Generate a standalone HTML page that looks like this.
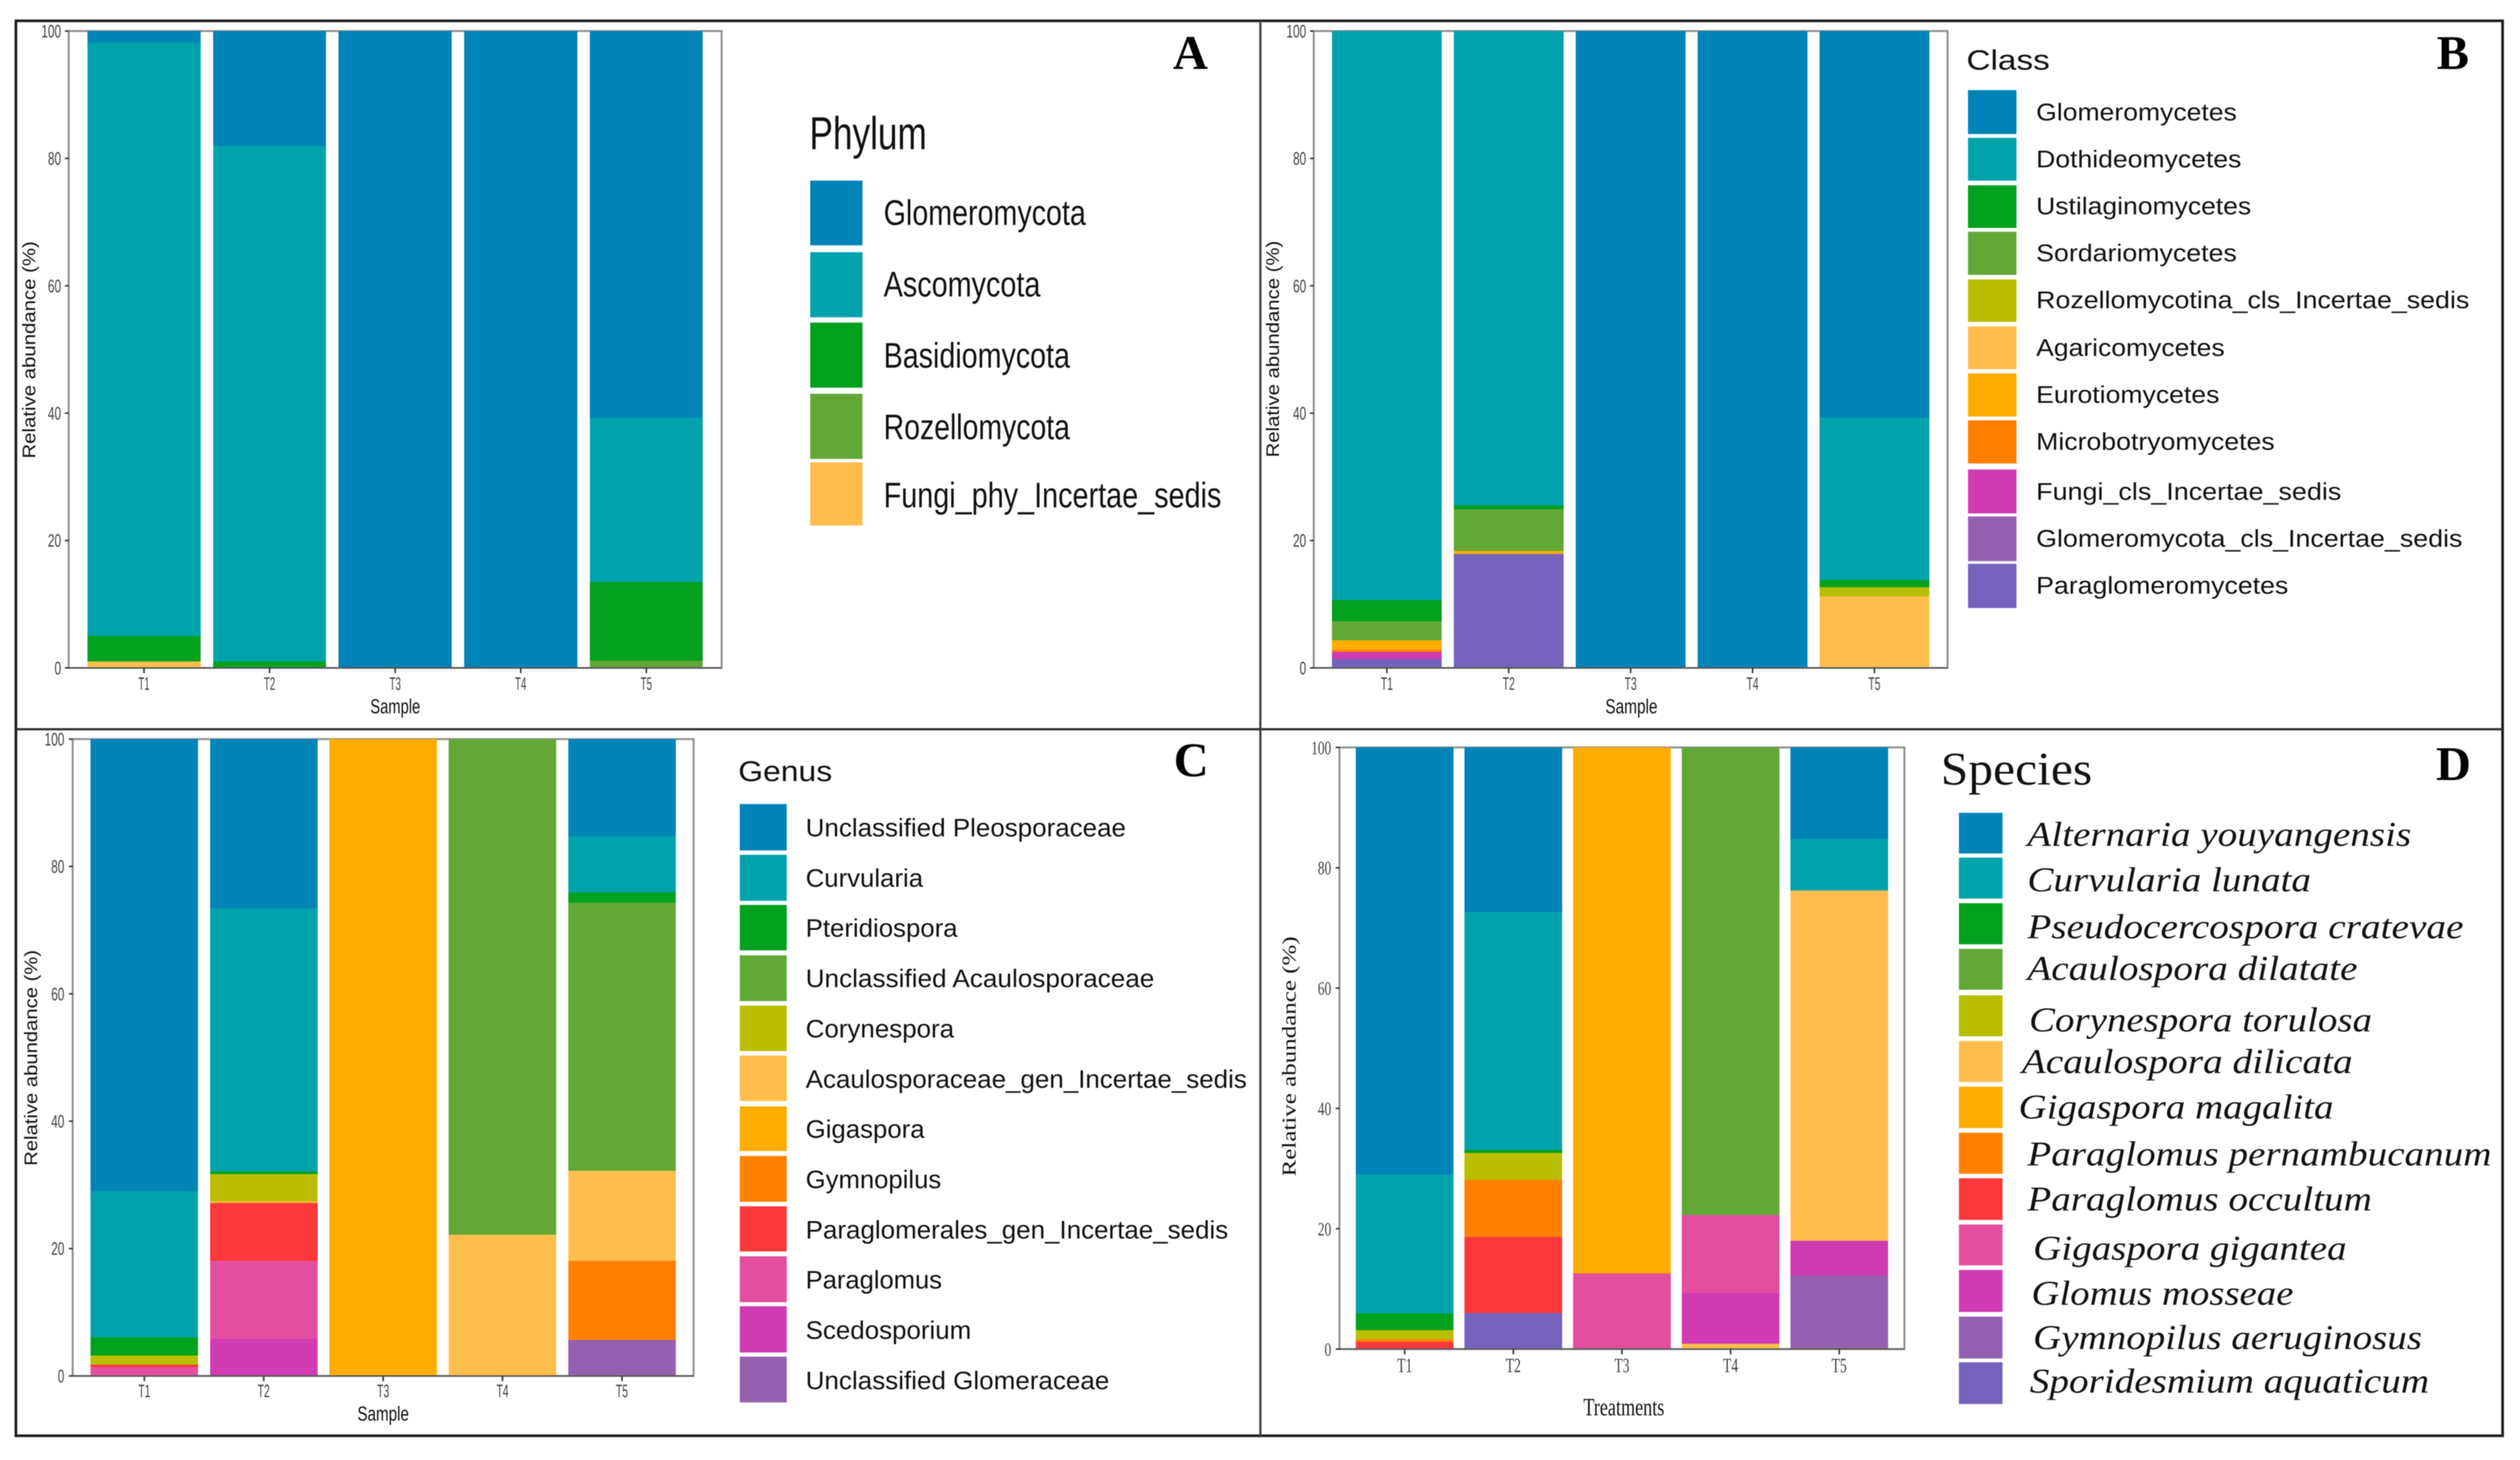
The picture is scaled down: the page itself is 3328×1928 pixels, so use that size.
<!DOCTYPE html>
<html lang="en">
<head>
<meta charset="utf-8">
<title>Fungal community relative abundance</title>
<style>
html,body{margin:0;padding:0;background:#fff;}
svg{display:block;filter:blur(0.6px);}
text{text-rendering:geometricPrecision;}
.sans{font-family:"Liberation Sans",sans-serif;fill:#111;}
.serif{font-family:"Liberation Serif",serif;fill:#111;}
.ital{font-family:"Liberation Serif",serif;font-style:italic;fill:#111;}
.letter{font-family:"Liberation Serif",serif;font-weight:bold;font-size:64px;fill:#000;}
</style>
</head>
<body>
<svg id="figure" xmlns="http://www.w3.org/2000/svg" width="3328" height="1928" viewBox="0 0 3328 1928">
<rect x="0" y="0" width="3328" height="1928" fill="#fff"/>
<g id="plots"></g>

<g fill="none">
<rect x="21" y="27.5" width="3284" height="1868.5" stroke="#1c1c1c" stroke-width="3.5"/>
<line x1="1664.5" y1="27" x2="1664.5" y2="1896" stroke="#444" stroke-width="3"/>
<line x1="21" y1="963" x2="3305" y2="963" stroke="#333" stroke-width="3"/>
</g>

<text class="letter" x="1549" y="91">A</text>
<text class="letter" x="3218" y="91">B</text>
<text class="letter" x="1550" y="1025">C</text>
<text class="letter" x="3217" y="1030">D</text>

<!-- Axis titles -->
<text class="sans" font-size="24" textLength="287" lengthAdjust="spacingAndGlyphs" text-anchor="middle" transform="translate(46.5 462) rotate(-90)">Relative abundance (%)</text>
<text class="sans" font-size="24" textLength="286" lengthAdjust="spacingAndGlyphs" text-anchor="middle" transform="translate(1689 461) rotate(-90)">Relative abundance (%)</text>
<text class="sans" font-size="24" textLength="285" lengthAdjust="spacingAndGlyphs" text-anchor="middle" transform="translate(49 1397) rotate(-90)">Relative abundance (%)</text>
<text class="serif" font-size="26" textLength="317" lengthAdjust="spacingAndGlyphs" text-anchor="middle" transform="translate(1711 1395) rotate(-90)">Relative abundance (%)</text>
<text class="sans" font-size="27" x="489" y="942" textLength="66" lengthAdjust="spacingAndGlyphs">Sample</text>
<text class="sans" font-size="27" x="2120" y="942" textLength="69" lengthAdjust="spacingAndGlyphs">Sample</text>
<text class="sans" font-size="27" x="472" y="1876" textLength="68" lengthAdjust="spacingAndGlyphs">Sample</text>
<text class="serif" font-size="33" x="2091" y="1869" textLength="107" lengthAdjust="spacingAndGlyphs">Treatments</text>

<!-- Legend A -->
<g>
<text class="sans" font-size="61" x="1069" y="197" textLength="155" lengthAdjust="spacingAndGlyphs">Phylum</text>
<g><rect x="1070" y="238.5" width="69" height="85.5" fill="#0083b7"/><text class="sans" font-size="47" x="1167" y="297" textLength="267" lengthAdjust="spacingAndGlyphs">Glomeromycota</text></g>
<g><rect x="1070" y="333" width="69" height="86" fill="#00a3ab"/><text class="sans" font-size="47" x="1167" y="391.5" textLength="207" lengthAdjust="spacingAndGlyphs">Ascomycota</text></g>
<g><rect x="1070" y="426" width="69" height="86" fill="#02a11e"/><text class="sans" font-size="47" x="1167" y="485.5" textLength="246" lengthAdjust="spacingAndGlyphs">Basidiomycota</text></g>
<g><rect x="1070" y="520" width="69" height="86" fill="#62a836"/><text class="sans" font-size="47" x="1167" y="580" textLength="246" lengthAdjust="spacingAndGlyphs">Rozellomycota</text></g>
<g><rect x="1070" y="610.5" width="69" height="83.5" fill="#ffbe4c"/><text class="sans" font-size="47" x="1167" y="670" textLength="446" lengthAdjust="spacingAndGlyphs">Fungi_phy_Incertae_sedis</text></g>
</g>

<!-- Legend B -->
<g>
<text class="sans" font-size="37" x="2597" y="92" textLength="110" lengthAdjust="spacingAndGlyphs">Class</text>
<g><rect x="2599" y="119" width="64" height="58" fill="#0083b7"/><text class="sans" font-size="32" x="2689" y="159" textLength="265" lengthAdjust="spacingAndGlyphs">Glomeromycetes</text></g>
<g><rect x="2599" y="182" width="64" height="56.5" fill="#00a3ab"/><text class="sans" font-size="32" x="2689" y="221" textLength="271" lengthAdjust="spacingAndGlyphs">Dothideomycetes</text></g>
<g><rect x="2599" y="244.7" width="64" height="56.3" fill="#02a11e"/><text class="sans" font-size="32" x="2689" y="283" textLength="284" lengthAdjust="spacingAndGlyphs">Ustilaginomycetes</text></g>
<g><rect x="2599" y="306" width="64" height="57" fill="#62a836"/><text class="sans" font-size="32" x="2689" y="345" textLength="265" lengthAdjust="spacingAndGlyphs">Sordariomycetes</text></g>
<g><rect x="2599" y="369" width="64" height="56" fill="#babe00"/><text class="sans" font-size="32" x="2689" y="407" textLength="572" lengthAdjust="spacingAndGlyphs">Rozellomycotina_cls_Incertae_sedis</text></g>
<g><rect x="2599" y="431" width="64" height="56.5" fill="#ffbe4c"/><text class="sans" font-size="32" x="2689" y="470" textLength="249" lengthAdjust="spacingAndGlyphs">Agaricomycetes</text></g>
<g><rect x="2599" y="493" width="64" height="57" fill="#ffac00"/><text class="sans" font-size="32" x="2689" y="532" textLength="242" lengthAdjust="spacingAndGlyphs">Eurotiomycetes</text></g>
<g><rect x="2599" y="555" width="64" height="57" fill="#ff8000"/><text class="sans" font-size="32" x="2689" y="594" textLength="315" lengthAdjust="spacingAndGlyphs">Microbotryomycetes</text></g>
<g><rect x="2599" y="620" width="64" height="58" fill="#d03bb3"/><text class="sans" font-size="32" x="2689" y="660" textLength="403" lengthAdjust="spacingAndGlyphs">Fungi_cls_Incertae_sedis</text></g>
<g><rect x="2599" y="682" width="64" height="59" fill="#9660b0"/><text class="sans" font-size="32" x="2689" y="722" textLength="563" lengthAdjust="spacingAndGlyphs">Glomeromycota_cls_Incertae_sedis</text></g>
<g><rect x="2599" y="744.5" width="64" height="58.5" fill="#7562bc"/><text class="sans" font-size="32" x="2689" y="784" textLength="333" lengthAdjust="spacingAndGlyphs">Paraglomeromycetes</text></g>
</g>

<!-- Legend C -->
<g>
<text class="sans" font-size="38" x="975" y="1031.5" textLength="124" lengthAdjust="spacingAndGlyphs">Genus</text>
<g><rect x="977" y="1061.8" width="62" height="61.2" fill="#0083b7"/><text class="sans" font-size="33.5" x="1064" y="1104.5" textLength="423" lengthAdjust="spacingAndGlyphs">Unclassified Pleosporaceae</text></g>
<g><rect x="977" y="1128.8" width="62" height="60.8" fill="#00a3ab"/><text class="sans" font-size="33.5" x="1064" y="1171" textLength="155" lengthAdjust="spacingAndGlyphs">Curvularia</text></g>
<g><rect x="977" y="1195" width="62" height="60" fill="#02a11e"/><text class="sans" font-size="33.5" x="1064" y="1237.2" textLength="200.6" lengthAdjust="spacingAndGlyphs">Pteridiospora</text></g>
<g><rect x="977" y="1261.6" width="62" height="60.4" fill="#62a836"/><text class="sans" font-size="33.5" x="1064" y="1303.5" textLength="460.5" lengthAdjust="spacingAndGlyphs">Unclassified Acaulosporaceae</text></g>
<g><rect x="977" y="1328" width="62" height="60" fill="#babe00"/><text class="sans" font-size="33.5" x="1064" y="1370" textLength="196" lengthAdjust="spacingAndGlyphs">Corynespora</text></g>
<g><rect x="977" y="1394" width="62" height="60" fill="#ffbe4c"/><text class="sans" font-size="33.5" x="1064" y="1436.5" textLength="582.6" lengthAdjust="spacingAndGlyphs">Acaulosporaceae_gen_Incertae_sedis</text></g>
<g><rect x="977" y="1461" width="62" height="59" fill="#ffac00"/><text class="sans" font-size="33.5" x="1064" y="1502.5" textLength="157" lengthAdjust="spacingAndGlyphs">Gigaspora</text></g>
<g><rect x="977" y="1526.5" width="62" height="60.5" fill="#ff8000"/><text class="sans" font-size="33.5" x="1064" y="1569" textLength="179" lengthAdjust="spacingAndGlyphs">Gymnopilus</text></g>
<g><rect x="977" y="1593" width="62" height="59.6" fill="#fb383c"/><text class="sans" font-size="33.5" x="1064" y="1635.3" textLength="558" lengthAdjust="spacingAndGlyphs">Paraglomerales_gen_Incertae_sedis</text></g>
<g><rect x="977" y="1659" width="62" height="60.6" fill="#e34e9e"/><text class="sans" font-size="33.5" x="1064" y="1701.5" textLength="180" lengthAdjust="spacingAndGlyphs">Paraglomus</text></g>
<g><rect x="977" y="1725" width="62" height="61" fill="#d03bb3"/><text class="sans" font-size="33.5" x="1064" y="1768" textLength="218.6" lengthAdjust="spacingAndGlyphs">Scedosporium</text></g>
<g><rect x="977" y="1791.5" width="62" height="60.5" fill="#9660b0"/><text class="sans" font-size="33.5" x="1064" y="1834.5" textLength="401" lengthAdjust="spacingAndGlyphs">Unclassified Glomeraceae</text></g>
</g>

<!-- Legend D -->
<g>
<text class="serif" font-size="62" x="2563" y="1036" textLength="200" lengthAdjust="spacingAndGlyphs">Species</text>
<g><rect x="2587" y="1073.4" width="57.6" height="53.6" fill="#0083b7"/><text class="ital" font-size="46" x="2677.4" y="1117" textLength="507" lengthAdjust="spacingAndGlyphs">Alternaria youyangensis</text></g>
<g><rect x="2587" y="1132.5" width="57.6" height="54.1" fill="#00a3ab"/><text class="ital" font-size="46" x="2677.4" y="1177" textLength="374.6" lengthAdjust="spacingAndGlyphs">Curvularia lunata</text></g>
<g><rect x="2587" y="1192.7" width="57.6" height="54.3" fill="#02a11e"/><text class="ital" font-size="46" x="2677.4" y="1239" textLength="576" lengthAdjust="spacingAndGlyphs">Pseudocercospora cratevae</text></g>
<g><rect x="2587" y="1253" width="57.6" height="54" fill="#62a836"/><text class="ital" font-size="46" x="2677.4" y="1294" textLength="436" lengthAdjust="spacingAndGlyphs">Acaulospora dilatate</text></g>
<g><rect x="2587" y="1314.4" width="57.6" height="54.1" fill="#babe00"/><text class="ital" font-size="46" x="2679.6" y="1362" textLength="453" lengthAdjust="spacingAndGlyphs">Corynespora torulosa</text></g>
<g><rect x="2587" y="1374.7" width="57.6" height="54.1" fill="#ffbe4c"/><text class="ital" font-size="46" x="2670" y="1417" textLength="437" lengthAdjust="spacingAndGlyphs">Acaulospora dilicata</text></g>
<g><rect x="2587" y="1435" width="57.6" height="54.7" fill="#ffac00"/><text class="ital" font-size="46" x="2665.8" y="1477" textLength="416" lengthAdjust="spacingAndGlyphs">Gigaspora magalita</text></g>
<g><rect x="2587" y="1495.8" width="57.6" height="54.2" fill="#ff8000"/><text class="ital" font-size="46" x="2677.4" y="1539" textLength="613" lengthAdjust="spacingAndGlyphs">Paraglomus pernambucanum</text></g>
<g><rect x="2587" y="1556" width="57.6" height="55" fill="#fb383c"/><text class="ital" font-size="46" x="2677.4" y="1598.5" textLength="455" lengthAdjust="spacingAndGlyphs">Paraglomus occultum</text></g>
<g><rect x="2587" y="1617" width="57.6" height="54" fill="#e34e9e"/><text class="ital" font-size="46" x="2685" y="1663.6" textLength="414" lengthAdjust="spacingAndGlyphs">Gigaspora gigantea</text></g>
<g><rect x="2587" y="1677" width="57.6" height="55.5" fill="#d03bb3"/><text class="ital" font-size="46" x="2682.8" y="1723" textLength="346" lengthAdjust="spacingAndGlyphs">Glomus mosseae</text></g>
<g><rect x="2587" y="1738.6" width="57.6" height="55.4" fill="#9660b0"/><text class="ital" font-size="46" x="2685" y="1781.7" textLength="513.6" lengthAdjust="spacingAndGlyphs">Gymnopilus aeruginosus</text></g>
<g><rect x="2587" y="1799" width="57.6" height="55" fill="#7562bc"/><text class="ital" font-size="46" x="2680.6" y="1839" textLength="527.4" lengthAdjust="spacingAndGlyphs">Sporidesmium aquaticum</text></g>
</g>
</svg>

<script>
// Shared axis data
const sampleCategories = ['T1', 'T2', 'T3', 'T4', 'T5'];
const percentTicks = [0, 20, 40, 60, 80, 100];

// Panel A: phylum values, one entry per sample, top of stack first
const phylumNames = ['Glomeromycota', 'Ascomycota', 'Basidiomycota', 'Rozellomycota', 'Fungi_phy_Incertae_sedis'];
const phylumGlomeromycota = [1.8, 18, 100, 100, 60.7];
const phylumAscomycota = [93.2, 81, 0, 0, 25.8];
const phylumBasidiomycota = [4, 1, 0, 0, 12.4];
const phylumRozellomycota = [0, 0, 0, 0, 1.1];
const phylumFungiIncertae = [1, 0, 0, 0, 0];

// Panel B: class values
const classNames = ['Glomeromycetes', 'Dothideomycetes', 'Ustilaginomycetes', 'Sordariomycetes', 'Rozellomycotina_cls_Incertae_sedis', 'Agaricomycetes', 'Eurotiomycetes', 'Microbotryomycetes', 'Fungi_cls_Incertae_sedis', 'Glomeromycota_cls_Incertae_sedis', 'Paraglomeromycetes'];
const classGlomeromycetes = [0, 0, 100, 100, 60.7];
const classDothideomycetes = [89.37, 74.5, 0, 0, 25.5];
const classUstilaginomycetes = [3.3, 0.6, 0, 0, 1.15];
const classSordariomycetes = [3, 6.5, 0, 0, 0];
const classRozellomycotina = [0, 0, 0, 0, 1.4];
const classAgaricomycetes = [0, 0, 0, 0, 11.25];
const classEurotiomycetes = [1.47, 0.5, 0, 0, 0];
const classMicrobotryomycetes = [0.36, 0, 0, 0, 0];
const classFungiIncertae = [1.1, 0, 0, 0, 0];
const classGlomeromycotaIncertae = [0, 0, 0, 0, 0];
const classParaglomeromycetes = [1.4, 17.9, 0, 0, 0];

// Panel C: genus values
const genusNames = ['Unclassified Pleosporaceae', 'Curvularia', 'Pteridiospora', 'Unclassified Acaulosporaceae', 'Corynespora', 'Acaulosporaceae_gen_Incertae_sedis', 'Gigaspora', 'Gymnopilus', 'Paraglomerales_gen_Incertae_sedis', 'Paraglomus', 'Scedosporium', 'Unclassified Glomeraceae'];
const genusPleosporaceae = [70.96, 26.6, 0, 0, 15.3];
const genusCurvularia = [22.95, 41.3, 0, 0, 8.8];
const genusPteridiospora = [2.85, 0.4, 0, 0, 1.6];
const genusAcaulosporaceae = [0, 0, 0, 77.8, 42.1];
const genusCorynespora = [1.45, 4.3, 0, 0, 0];
const genusAcaulosporaceaeIncertae = [0, 0.25, 0, 22.2, 14.13];
const genusGigaspora = [0, 0, 100, 0, 0];
const genusGymnopilus = [0, 0, 0, 0, 12.44];
const genusParaglomeralesIncertae = [0.4, 9.08, 0, 0, 0];
const genusParaglomus = [1.39, 12.22, 0, 0, 0];
const genusScedosporium = [0, 5.85, 0, 0, 0];
const genusGlomeraceae = [0, 0, 0, 0, 5.63];

// Panel D: species values (the last series is the small dilicata slice at the foot of T4)
const speciesNames = ['Alternaria youyangensis', 'Curvularia lunata', 'Pseudocercospora cratevae', 'Acaulospora dilatate', 'Corynespora torulosa', 'Acaulospora dilicata', 'Gigaspora magalita', 'Paraglomus pernambucanum', 'Paraglomus occultum', 'Gigaspora gigantea', 'Glomus mosseae', 'Gymnopilus aeruginosus', 'Sporidesmium aquaticum', 'Acaulospora dilicata base'];
const speciesAlternaria = [71, 27.4, 0, 0, 15.25];
const speciesCurvularia = [23.1, 39.5, 0, 0, 8.55];
const speciesPseudocercospora = [2.74, 0.5, 0, 0, 0];
const speciesDilatate = [0, 0, 0, 77.7, 0];
const speciesCorynespora = [1.51, 4.5, 0, 0, 0];
const speciesDilicata = [0, 0, 0, 0, 58.2];
const speciesMagalita = [0, 0, 87.4, 0, 0];
const speciesPernambucanum = [0.43, 9.5, 0, 0, 0];
const speciesOccultum = [1.22, 12.6, 0, 0, 0];
const speciesGigantea = [0, 0, 12.6, 13, 0];
const speciesMosseae = [0, 0, 0, 8.45, 5.8];
const speciesGymnopilus = [0, 0, 0, 0, 12.2];
const speciesSporidesmium = [0, 6, 0, 0, 0];
const speciesDilicataBase = [0, 0, 0, 0.85, 0];

const BLUE = '#0083b7', TEAL = '#00a3ab', GREEN = '#02a11e', OLIVE = '#62a836', LIME = '#babe00', PEACH = '#ffbe4c', AMBER = '#ffac00', ORANGE = '#ff8000', RED = '#fb383c', PINK = '#e34e9e', MAGENTA = '#d03bb3', PURPLE = '#9660b0', INDIGO = '#7562bc';
const NS = 'http://www.w3.org/2000/svg';
const plotsRoot = document.getElementById('plots');

function makeEl(parent, tag) {
  const el = document.createElementNS(NS, tag);
  parent.appendChild(el);
  return el;
}

function drawPanel(cfg) {
  const g = makeEl(plotsRoot, 'g');
  
  

  const yScale = function (v) { return cfg.bottom - (v / 100) * (cfg.bottom - cfg.top); };
  const band = (cfg.right - cfg.left) / (sampleCategories.length - 1 + 1.2);
  const xScale = function (i) { return cfg.left + 0.6 * band + i * band; };
  const barWidth = band * 0.9;

  const border = makeEl(g, 'rect');
  
  
  border.setAttribute('x', cfg.left);
  border.setAttribute('y', cfg.top);
  border.setAttribute('width', cfg.right - cfg.left);
  border.setAttribute('height', cfg.bottom - cfg.top);
  border.setAttribute('fill', '#fff');
  border.setAttribute('stroke', '#8c8c8c');
  border.setAttribute('stroke-width', '2.5');

  sampleCategories.forEach(function (cat, i) {
    let cum = 0;
    for (let s = cfg.series.length - 1; s >= 0; s--) {
      const v = cfg.series[s][i];
      if (v <= 0) continue;
      const seg = makeEl(g, 'rect');
      
      
      seg.setAttribute('x', xScale(i) - barWidth / 2);
      seg.setAttribute('y', yScale(cum + v));
      seg.setAttribute('width', barWidth);
      seg.setAttribute('height', yScale(cum) - yScale(cum + v));
      seg.setAttribute('fill', cfg.colors[s]);
      seg.setAttribute('shape-rendering', 'crispEdges');
      cum += v;
    }
  });

  const baseLine = makeEl(g, 'line');
  
  
  baseLine.setAttribute('x1', cfg.left);
  baseLine.setAttribute('x2', cfg.right);
  baseLine.setAttribute('y1', cfg.bottom);
  baseLine.setAttribute('y2', cfg.bottom);
  baseLine.setAttribute('stroke', '#5a5a5a');
  baseLine.setAttribute('stroke-width', '2');

  percentTicks.forEach(function (t) {
    const tick = makeEl(g, 'line');
    
    
    tick.setAttribute('x1', cfg.left - 5);
    tick.setAttribute('x2', cfg.left);
    tick.setAttribute('y1', yScale(t));
    tick.setAttribute('y2', yScale(t));
    tick.setAttribute('stroke', '#333');
    tick.setAttribute('stroke-width', '2');
    const label = makeEl(g, 'text');
    
    
    label.setAttribute('x', cfg.left - cfg.yLabelGap);
    label.setAttribute('y', yScale(t) + cfg.tickFont * 0.35);
    label.setAttribute('text-anchor', 'end');
    label.setAttribute('font-family', cfg.font);
    label.setAttribute('font-size', cfg.tickFont);
    label.setAttribute('fill', '#404040');
    label.setAttribute('textLength', String(t).length * cfg.digitWidth);
    label.setAttribute('lengthAdjust', 'spacingAndGlyphs');
    label.textContent = String(t);
  });

  sampleCategories.forEach(function (cat, i) {
    const tick = makeEl(g, 'line');
    
    
    tick.setAttribute('x1', xScale(i));
    tick.setAttribute('x2', xScale(i));
    tick.setAttribute('y1', cfg.bottom);
    tick.setAttribute('y2', cfg.bottom + 7);
    tick.setAttribute('stroke', '#333');
    tick.setAttribute('stroke-width', '2');
    const label = makeEl(g, 'text');
    
    
    label.setAttribute('x', xScale(i));
    label.setAttribute('y', cfg.xLabelY);
    label.setAttribute('text-anchor', 'middle');
    label.setAttribute('font-family', cfg.font);
    label.setAttribute('font-size', cfg.xFont);
    label.setAttribute('fill', '#404040');
    label.setAttribute('textLength', cfg.xLabelWidth);
    label.setAttribute('lengthAdjust', 'spacingAndGlyphs');
    label.textContent = cat;
  });
}

const sansStack = '"Liberation Sans", sans-serif';
const serifStack = '"Liberation Serif", serif';

drawPanel({
  id: 'phylum', names: phylumNames,
  series: [phylumGlomeromycota, phylumAscomycota, phylumBasidiomycota, phylumRozellomycota, phylumFungiIncertae],
  colors: [BLUE, TEAL, GREEN, OLIVE, PEACH],
  left: 90.7, right: 953, top: 41, bottom: 882,
  font: sansStack, tickFont: 24, digitWidth: 8.7, yLabelGap: 10, xFont: 24, xLabelWidth: 15, xLabelY: 911
});
drawPanel({
  id: 'class', names: classNames,
  series: [classGlomeromycetes, classDothideomycetes, classUstilaginomycetes, classSordariomycetes, classRozellomycotina, classAgaricomycetes, classEurotiomycetes, classMicrobotryomycetes, classFungiIncertae, classGlomeromycotaIncertae, classParaglomeromycetes],
  colors: [BLUE, TEAL, GREEN, OLIVE, LIME, PEACH, AMBER, ORANGE, MAGENTA, PURPLE, INDIGO],
  left: 1735, right: 2572, top: 41, bottom: 882,
  font: sansStack, tickFont: 24, digitWidth: 8.7, yLabelGap: 10, xFont: 24, xLabelWidth: 16, xLabelY: 911
});
drawPanel({
  id: 'genus', names: genusNames,
  series: [genusPleosporaceae, genusCurvularia, genusPteridiospora, genusAcaulosporaceae, genusCorynespora, genusAcaulosporaceaeIncertae, genusGigaspora, genusGymnopilus, genusParaglomeralesIncertae, genusParaglomus, genusScedosporium, genusGlomeraceae],
  colors: [BLUE, TEAL, GREEN, OLIVE, LIME, PEACH, AMBER, ORANGE, RED, PINK, MAGENTA, PURPLE],
  left: 96, right: 916, top: 976, bottom: 1817,
  font: sansStack, tickFont: 24, digitWidth: 8.7, yLabelGap: 11, xFont: 24, xLabelWidth: 16, xLabelY: 1845
});
drawPanel({
  id: 'species', names: speciesNames,
  series: [speciesAlternaria, speciesCurvularia, speciesPseudocercospora, speciesDilatate, speciesCorynespora, speciesDilicata, speciesMagalita, speciesPernambucanum, speciesOccultum, speciesGigantea, speciesMosseae, speciesGymnopilus, speciesSporidesmium, speciesDilicataBase],
  colors: [BLUE, TEAL, GREEN, OLIVE, LIME, PEACH, AMBER, ORANGE, RED, PINK, MAGENTA, PURPLE, INDIGO, PEACH],
  left: 1769, right: 2515, top: 987, bottom: 1781.5,
  font: serifStack, tickFont: 25, digitWidth: 8.8, yLabelGap: 11, xFont: 27, xLabelWidth: 20, xLabelY: 1812
});
</script>
</body>
</html>
